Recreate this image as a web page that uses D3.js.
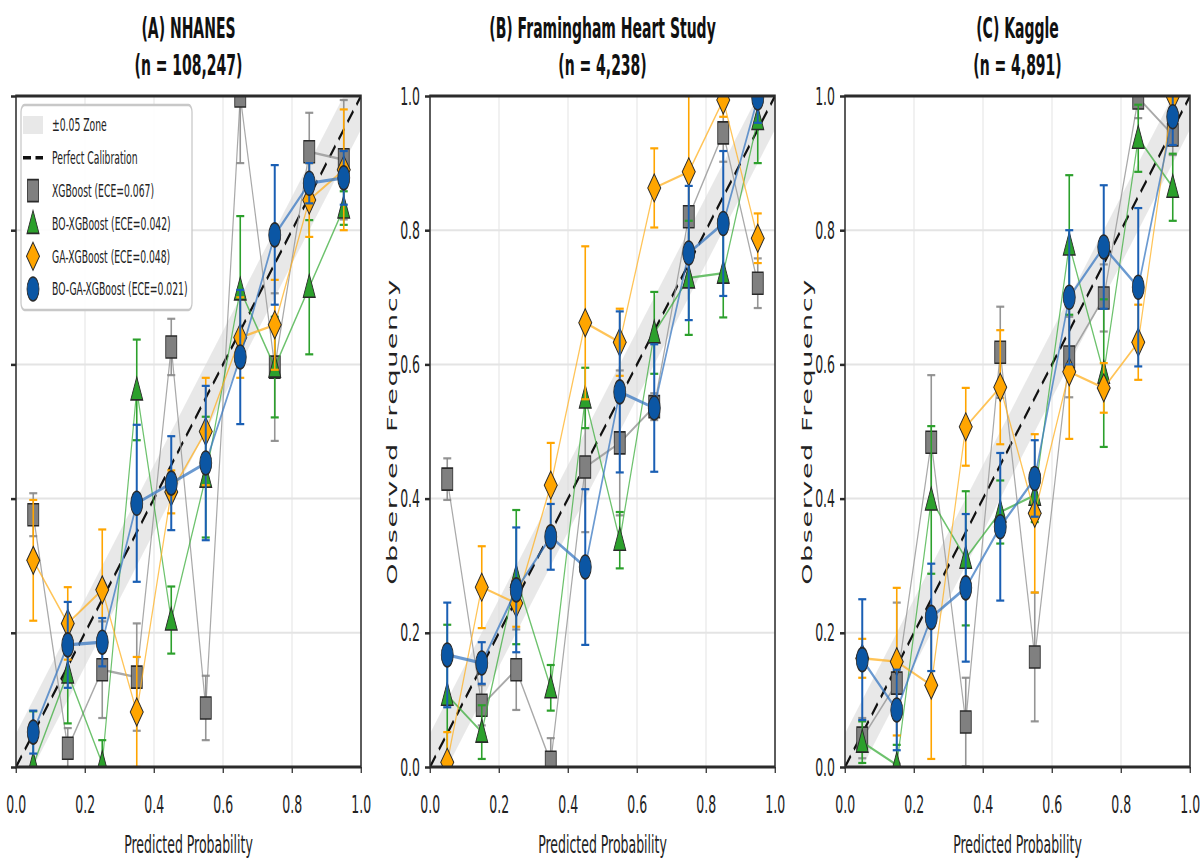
<!DOCTYPE html>
<html>
<head>
<meta charset="utf-8">
<script src="https://cdn.jsdelivr.net/npm/d3@7"></script>
<style>
  body { margin: 0; background: #fff; }
  svg { display: block; }
</style>
</head>
<body>
<svg id="chart"></svg>
<script>
// bins and labels
const bins = [0.05, 0.15, 0.25, 0.35, 0.45, 0.55, 0.65, 0.75, 0.85, 0.95];
const tickValues = [0, 0.2, 0.4, 0.6, 0.8, 1.0];
const panelTitles = ["(A) NHANES", "(B) Framingham Heart Study", "(C) Kaggle"];
const sampleSizes = ["108,247", "4,238", "4,891"];
const modelNames = ["XGBoost", "BO-XGBoost", "GA-XGBoost", "BO-GA-XGBoost"];
const eceValues = [0.067, 0.042, 0.048, 0.021];

// (A) NHANES
const nhanesXGB     = [0.376, 0.028, 0.145, 0.134, 0.626, 0.088, 1.000, 0.596, 0.917, 0.905];
const nhanesXGBErr  = [0.032, 0.030, 0.072, 0.080, 0.042, 0.048, 0.100, 0.110, 0.058, 0.089];
const nhanesBO      = [0.003, 0.140, 0.005, 0.562, 0.219, 0.432, 0.711, 0.596, 0.715, 0.833];
const nhanesBOErr   = [0.080, 0.075, 0.035, 0.075, 0.050, 0.090, 0.110, 0.075, 0.100, 0.025];
const nhanesGA      = [0.308, 0.214, 0.264, 0.082, 0.410, 0.500, 0.640, 0.659, 0.845, 0.890];
const nhanesGAErr   = [0.090, 0.054, 0.090, 0.082, 0.032, 0.080, 0.060, 0.067, 0.055, 0.090];
const nhanesBOGA    = [0.052, 0.182, 0.186, 0.393, 0.423, 0.453, 0.611, 0.793, 0.870, 0.878];
const nhanesBOGAErr = [0.032, 0.064, 0.036, 0.117, 0.070, 0.115, 0.100, 0.104, 0.030, 0.040];

// (B) Framingham
const framXGB     = [0.429, 0.092, 0.145, 0.007, 0.447, 0.483, 0.537, 0.820, 0.945, 0.721];
const framXGBErr  = [0.031, 0.030, 0.060, 0.036, 0.097, 0.108, 0.020, 0.060, 0.043, 0.037];
const framBO      = [0.107, 0.052, 0.283, 0.118, 0.550, 0.338, 0.647, 0.729, 0.736, 0.965];
const framBOErr   = [0.105, 0.040, 0.100, 0.034, 0.045, 0.042, 0.061, 0.085, 0.066, 0.065];
const framGA      = [0.007, 0.268, 0.244, 0.420, 0.662, 0.633, 0.863, 0.887, 0.994, 0.788];
const framGAErr   = [0.045, 0.061, 0.035, 0.063, 0.114, 0.050, 0.059, 0.113, 0.025, 0.037];
const framBOGA    = [0.167, 0.155, 0.264, 0.343, 0.298, 0.559, 0.535, 0.766, 0.810, 0.997];
const framBOGAErr = [0.078, 0.031, 0.093, 0.049, 0.116, 0.120, 0.095, 0.100, 0.108, 0.037];

// (C) Kaggle
const kagXGB     = [0.043, 0.125, 0.484, 0.067, 0.618, 0.164, 0.611, 0.699, 0.997, 0.942];
const kagXGBErr  = [0.030, 0.120, 0.100, 0.066, 0.068, 0.096, 0.060, 0.050, 0.030, 0.030];
const kagBO      = [0.037, 0.003, 0.398, 0.311, 0.380, 0.405, 0.778, 0.587, 0.937, 0.864];
const kagBOErr   = [0.031, 0.030, 0.110, 0.100, 0.047, 0.040, 0.104, 0.110, 0.050, 0.050];
const kagGA      = [0.162, 0.157, 0.122, 0.507, 0.566, 0.378, 0.589, 0.565, 0.633, 0.999];
const kagGAErr   = [0.029, 0.110, 0.110, 0.058, 0.085, 0.118, 0.100, 0.037, 0.056, 0.030];
const kagBOGA    = [0.160, 0.085, 0.223, 0.267, 0.358, 0.430, 0.700, 0.775, 0.715, 0.969];
const kagBOGAErr = [0.090, 0.060, 0.080, 0.110, 0.110, 0.057, 0.100, 0.092, 0.118, 0.042];

const panelValues = [
  [[nhanesXGB, nhanesXGBErr], [nhanesBO, nhanesBOErr], [nhanesGA, nhanesGAErr], [nhanesBOGA, nhanesBOGAErr]],
  [[framXGB, framXGBErr], [framBO, framBOErr], [framGA, framGAErr], [framBOGA, framBOGAErr]],
  [[kagXGB, kagXGBErr], [kagBO, kagBOErr], [kagGA, kagGAErr], [kagBOGA, kagBOGAErr]]
];

// styles per model
const fills   = ["#808080", "#2ca02c", "#FFA500", "#0b56a4"];
const lineCol = ["#9a9a9a", "#3cae3c", "#FFB020", "#3a78c2"];
const errCol  = ["#8a8a8a", "#2ca02c", "#FFA500", "#1a5fb4"];
const markerPath = [
  "M-11,-11H11V11H-11Z",
  "M0,-13L12,10L-12,10Z",
  "M0,-14L13,0L0,14L-13,0Z",
  "M12,0A12,12 0 1,1 -12,0A12,12 0 1,1 12,0Z"
];

// the figure is horizontally squashed: draw wide, then scale x
const squash = 0.5;
const plotTop = 96, plotBottom = 767;
const panelLeft = [32, 860, 1690];
const panelW = 690;
const font = "DejaVu Sans";

const svg = d3.select("#chart").attr("width", 1203).attr("height", 863);
const defs = svg.append("defs");
const root = svg.append("g").attr("transform", `scale(${squash},1)`);

const x = d3.scaleLinear().domain([0, 1]).range([0, panelW]);
const y = d3.scaleLinear().domain([0, 1]).range([plotBottom, plotTop]);

panelTitles.forEach((title, i) => {
  const g = root.append("g").attr("transform", `translate(${panelLeft[i]},0)`);

  defs.append("clipPath").attr("id", "clip" + i)
    .append("rect")
    .attr("x", 0).attr("y", plotTop)
    .attr("width", panelW).attr("height", plotBottom - plotTop);

  // grid
  g.selectAll(".vgrid").data(tickValues).enter().append("line")
    .attr("x1", d => x(d)).attr("x2", d => x(d))
    .attr("y1", plotTop).attr("y2", plotBottom)
    .attr("stroke", "#e4e4e4").attr("stroke-width", 2);
  g.selectAll(".hgrid").data(tickValues).enter().append("line")
    .attr("x1", 0).attr("x2", panelW)
    .attr("y1", d => y(d)).attr("y2", d => y(d))
    .attr("stroke", "#e4e4e4").attr("stroke-width", 2);

  const plot = g.append("g").attr("clip-path", `url(#clip${i})`);

  // ±0.05 band
  const band = [[0, 0], [0, 0.05], [0.95, 1], [1, 1], [1, 0.95], [0.05, 0]];
  plot.append("path")
    .attr("d", d3.line().x(d => x(d[0])).y(d => y(d[1]))(band) + "Z")
    .attr("fill", "#d6d6d6").attr("fill-opacity", 0.55);

  // perfect calibration
  plot.append("line")
    .attr("x1", x(0)).attr("y1", y(0)).attr("x2", x(1)).attr("y2", y(1))
    .attr("stroke", "#111").attr("stroke-width", 3.5)
    .attr("stroke-dasharray", "16,9");

  panelValues[i].forEach(([vals, errs], k) => {
    const pts = bins.map((b, j) => ({ b, v: vals[j], e: errs[j] }));
    plot.append("path")
      .attr("d", d3.line().x(d => x(d.b)).y(d => y(d.v))(pts))
      .attr("fill", "none")
      .attr("stroke", lineCol[k])
      .attr("stroke-opacity", k === 0 ? 0.85 : 0.75)
      .attr("stroke-width", k === 3 ? 3.2 : 2.4);

    const eb = plot.append("g")
      .attr("stroke", errCol[k]).attr("stroke-opacity", k === 0 ? 0.9 : 1);
    pts.forEach(d => {
      eb.append("line")
        .attr("x1", x(d.b)).attr("x2", x(d.b))
        .attr("y1", y(d.v - d.e)).attr("y2", y(d.v + d.e))
        .attr("stroke-width", k === 3 ? 4 : 3.2);
      [d.v - d.e, d.v + d.e].forEach(c => {
        eb.append("line")
          .attr("x1", x(d.b) - 8).attr("x2", x(d.b) + 8)
          .attr("y1", y(c)).attr("y2", y(c))
          .attr("stroke-width", 2.2);
      });
    });

    plot.selectAll(".m" + k).data(pts).enter().append("path")
      .attr("d", markerPath[k])
      .attr("transform", d => `translate(${x(d.b)},${y(d.v)})`)
      .attr("fill", fills[k])
      .attr("stroke", "#2a2a2a").attr("stroke-width", 1.6);
  });

  // frame
  g.append("rect")
    .attr("x", 0).attr("y", plotTop)
    .attr("width", panelW).attr("height", plotBottom - plotTop)
    .attr("fill", "none").attr("stroke", "#2b2b2b").attr("stroke-width", 3);

  // axes (panel A's y labels fall outside the crop, keep only its ticks)
  const fmt = d3.format(".1f");
  const xAxis = g.append("g").attr("transform", `translate(0,${plotBottom})`)
    .call(d3.axisBottom(x).tickValues(tickValues).tickFormat(fmt).tickSize(6).tickPadding(22));
  const yAxis = g.append("g")
    .call(d3.axisLeft(y).tickValues(tickValues).tickFormat(i === 0 ? "" : fmt).tickSize(10).tickPadding(10));
  [xAxis, yAxis].forEach(ax => {
    ax.attr("font-family", font).attr("font-size", 25);
    ax.select(".domain").remove();
    ax.selectAll(".tick line").attr("stroke", "#2b2b2b").attr("stroke-width", 2.5);
    ax.selectAll(".tick text").attr("fill", "#222");
  });

  // titles and labels
  g.append("text").attr("x", panelW / 2).attr("y", 38)
    .attr("text-anchor", "middle").attr("font-family", font)
    .attr("font-weight", "bold").attr("font-size", 28).attr("fill", "#111")
    .text(title);
  g.append("text").attr("x", panelW / 2).attr("y", 75)
    .attr("text-anchor", "middle").attr("font-family", font)
    .attr("font-weight", "bold").attr("font-size", 28).attr("fill", "#111")
    .text(`(n = ${sampleSizes[i]})`);
  g.append("text").attr("x", panelW / 2).attr("y", 853)
    .attr("text-anchor", "middle").attr("font-family", font)
    .attr("font-size", 25).attr("fill", "#222")
    .text("Predicted Probability");
  if (i > 0) {
    g.append("text")
      .attr("transform", `translate(-66,${(plotTop + plotBottom) / 2}) rotate(-90)`)
      .attr("text-anchor", "middle").attr("font-family", font)
      .attr("font-size", 27).attr("letter-spacing", 1.6).attr("fill", "#222")
      .text("Observed Frequency");
  }
});

// legend (panel A only)
const lg = root.append("g");
lg.append("rect")
  .attr("x", 42).attr("y", 105).attr("width", 342).attr("height", 205)
  .attr("rx", 7).attr("fill", "#fff").attr("fill-opacity", 0.9)
  .attr("stroke", "#c8c8c8").attr("stroke-width", 2.5);
const rowY = d => 125 + d * 32.8;
lg.append("rect").attr("x", 46).attr("y", rowY(0) - 9).attr("width", 40).attr("height", 18)
  .attr("fill", "#d6d6d6").attr("fill-opacity", 0.55);
lg.append("line").attr("x1", 46).attr("x2", 86).attr("y1", rowY(1)).attr("y2", rowY(1))
  .attr("stroke", "#111").attr("stroke-width", 3.5).attr("stroke-dasharray", "16,9");
modelNames.forEach((m, k) => {
  lg.append("path").attr("d", markerPath[k])
    .attr("transform", `translate(66,${rowY(k + 2)})`)
    .attr("fill", fills[k]).attr("stroke", "#2a2a2a").attr("stroke-width", 1.6);
});
const legendLabels = ["±0.05 Zone", "Perfect Calibration"]
  .concat(modelNames.map((m, k) => `${m} (ECE=${eceValues[k].toFixed(3)})`));
legendLabels.forEach((t, j) => {
  lg.append("text").attr("x", 104).attr("y", rowY(j)).attr("dy", "0.35em")
    .attr("font-family", font).attr("font-size", 18.5).attr("fill", "#222")
    .text(t);
});
</script>
</body>
</html>
